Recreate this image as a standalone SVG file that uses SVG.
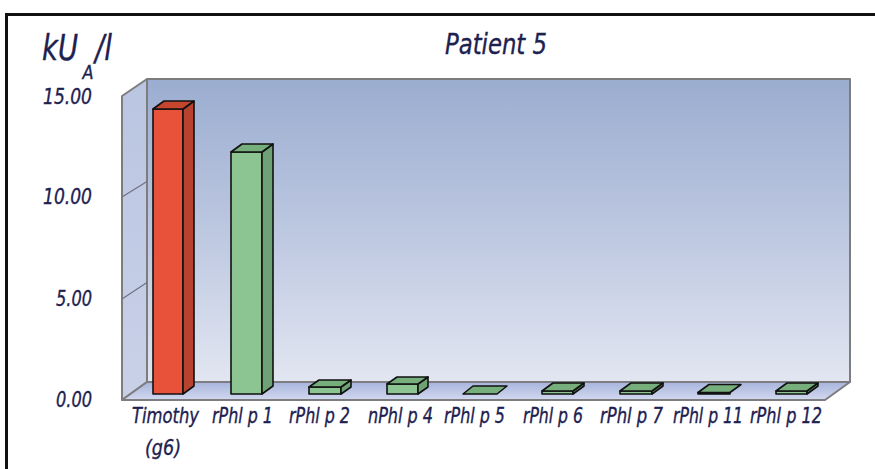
<svg xmlns="http://www.w3.org/2000/svg" width="875" height="469" viewBox="0 0 875 469">
  <defs>
    <linearGradient id="wallGrad" x1="0" y1="79" x2="0" y2="382" gradientUnits="userSpaceOnUse">
      <stop offset="0" stop-color="#9badd0"/>
      <stop offset="0.55" stop-color="#c0cae2"/>
      <stop offset="1" stop-color="#e2e6f1"/>
    </linearGradient>
    <linearGradient id="sideGrad" x1="0" y1="79" x2="0" y2="400" gradientUnits="userSpaceOnUse">
      <stop offset="0" stop-color="#bac5e1"/>
      <stop offset="1" stop-color="#c9d1e8"/>
    </linearGradient>
    <linearGradient id="floorGrad" x1="0" y1="382" x2="0" y2="400" gradientUnits="userSpaceOnUse">
      <stop offset="0" stop-color="#a7b4dc"/>
      <stop offset="1" stop-color="#d2d8ee"/>
    </linearGradient>
    <style>
      .frame { fill: none; stroke: #111; stroke-width: 3; }
      .edge { stroke: #7d7d80; stroke-width: 2; stroke-linejoin: round; }
      .grid { fill: none; stroke: #6f7180; stroke-width: 1.2; }
      .bar { stroke: #111; stroke-width: 1.6; stroke-linejoin: round; }
      .red .front { fill: #e8513a; }
      .red .side { fill: #b7422f; }
      .red .top { fill: #c5452f; }
      .green .front { fill: #8dc592; }
      .green .side { fill: #6ea274; }
      .green .top { fill: #76ae7c; }
      text { font-family: "Liberation Sans Narrow", "DejaVu Sans Condensed", "Liberation Sans", sans-serif; font-style: italic; fill: #1d2150; stroke: #1d2150; stroke-width: 0.35; }
      .tick { font-size: 22px; }
      .cat { font-size: 21px; }
    </style>
  </defs>

  <rect width="875" height="469" fill="#ffffff"/>

  <!-- outer frame (open to the right and bottom) -->
  <path class="frame" d="M6.5,469 V14.5 H875"/>

  <!-- chart walls -->
  <g id="chart-walls">
    <rect x="147" y="79" width="703" height="303" fill="url(#wallGrad)" class="edge"/>
    <polygon points="122,96 147,79 147,382 122,400" fill="url(#sideGrad)" class="edge"/>
    <polygon points="122,400 825,400 850,382 147,382" fill="url(#floorGrad)" class="edge"/>
    <line class="grid" x1="122" y1="197" x2="147" y2="181.5"/>
    <line class="grid" x1="122" y1="299" x2="147" y2="282.5"/>
  </g>

  <!-- axis titles -->
  <g id="titles">
    <text x="42" y="60" font-size="36"><tspan textLength="36" lengthAdjust="spacingAndGlyphs">kU</tspan><tspan x="82.5" dy="19" font-size="19" textLength="11" lengthAdjust="spacingAndGlyphs">A</tspan><tspan x="95" dy="-19" textLength="17" lengthAdjust="spacingAndGlyphs">/l</tspan></text>
    <text x="445" y="54" font-size="28" textLength="102" lengthAdjust="spacingAndGlyphs">Patient 5</text>
  </g>

  <!-- value axis labels -->
  <g id="value-axis">
    <text class="tick" x="43" y="104" textLength="49" lengthAdjust="spacingAndGlyphs">15.00</text>
    <text class="tick" x="43" y="204" textLength="49" lengthAdjust="spacingAndGlyphs">10.00</text>
    <text class="tick" x="56" y="306" textLength="36" lengthAdjust="spacingAndGlyphs">5.00</text>
    <text class="tick" x="56" y="407" textLength="36" lengthAdjust="spacingAndGlyphs">0.00</text>
  </g>

  <!-- bars: front face, side face, top face; depth offset (11,-8) -->
  <g id="bar-timothy" class="red">
    <rect class="bar front" x="153" y="109" width="30" height="285"/>
    <polygon class="bar side" points="183,109 194,101 194,386 183,394"/>
    <polygon class="bar top" points="153,109 164,101 194,101 183,109"/>
  </g>
  <g id="bar-rphlp1" class="green">
    <rect class="bar front" x="231" y="152" width="31" height="242"/>
    <polygon class="bar side" points="262,152 273,144 273,386 262,394"/>
    <polygon class="bar top" points="231,152 242,144 273,144 262,152"/>
  </g>
  <g id="bar-rphlp2" class="green">
    <rect class="bar front" x="309" y="387" width="32" height="7"/>
    <polygon class="bar side" points="341,387 351,380 351,387 341,394"/>
    <polygon class="bar top" points="309,387 319,380 351,380 341,387"/>
  </g>
  <g id="bar-nphlp4" class="green">
    <rect class="bar front" x="387" y="384" width="31" height="10"/>
    <polygon class="bar side" points="418,384 428,377 428,387 418,394"/>
    <polygon class="bar top" points="387,384 397,377 428,377 418,384"/>
  </g>
  <g id="bar-rphlp5" class="green">
    <polygon class="bar top" points="463,394 473,386 507,386 497,394"/>
  </g>
  <g id="bar-rphlp6" class="green">
    <rect class="bar front" x="542" y="391" width="31" height="3"/>
    <polygon class="bar side" points="573,391 584,383 584,386 573,394"/>
    <polygon class="bar top" points="542,391 553,383 584,383 573,391"/>
  </g>
  <g id="bar-rphlp7" class="green">
    <rect class="bar front" x="620" y="391" width="32" height="3"/>
    <polygon class="bar side" points="652,391 663,383 663,386 652,394"/>
    <polygon class="bar top" points="620,391 631,383 663,383 652,391"/>
  </g>
  <g id="bar-rphlp11" class="green">
    <rect class="bar front" x="698" y="392.5" width="32" height="1.5"/>
    <polygon class="bar top" points="698,392.5 709,384.5 741,384.5 730,392.5"/>
  </g>
  <g id="bar-rphlp12" class="green">
    <rect class="bar front" x="776" y="391" width="31" height="3"/>
    <polygon class="bar side" points="807,391 818,383 818,386 807,394"/>
    <polygon class="bar top" points="776,391 787,383 818,383 807,391"/>
  </g>

  <!-- category labels -->
  <g id="category-axis">
    <text class="cat" x="132" y="423" textLength="67" lengthAdjust="spacingAndGlyphs">Timothy</text>
    <text class="cat" x="145" y="455" textLength="36" lengthAdjust="spacingAndGlyphs">(g6)</text>
    <text class="cat" x="212" y="423" textLength="61" lengthAdjust="spacingAndGlyphs">rPhl p 1</text>
    <text class="cat" x="289" y="423" textLength="61" lengthAdjust="spacingAndGlyphs">rPhl p 2</text>
    <text class="cat" x="368" y="423" textLength="65" lengthAdjust="spacingAndGlyphs">nPhl p 4</text>
    <text class="cat" x="444" y="423" textLength="61" lengthAdjust="spacingAndGlyphs">rPhl p 5</text>
    <text class="cat" x="523" y="423" textLength="60" lengthAdjust="spacingAndGlyphs">rPhl p 6</text>
    <text class="cat" x="600" y="423" textLength="63" lengthAdjust="spacingAndGlyphs">rPhl p 7</text>
    <text class="cat" x="673" y="423" textLength="70" lengthAdjust="spacingAndGlyphs">rPhl p 11</text>
    <text class="cat" x="750" y="423" textLength="72" lengthAdjust="spacingAndGlyphs">rPhl p 12</text>
  </g>
</svg>
